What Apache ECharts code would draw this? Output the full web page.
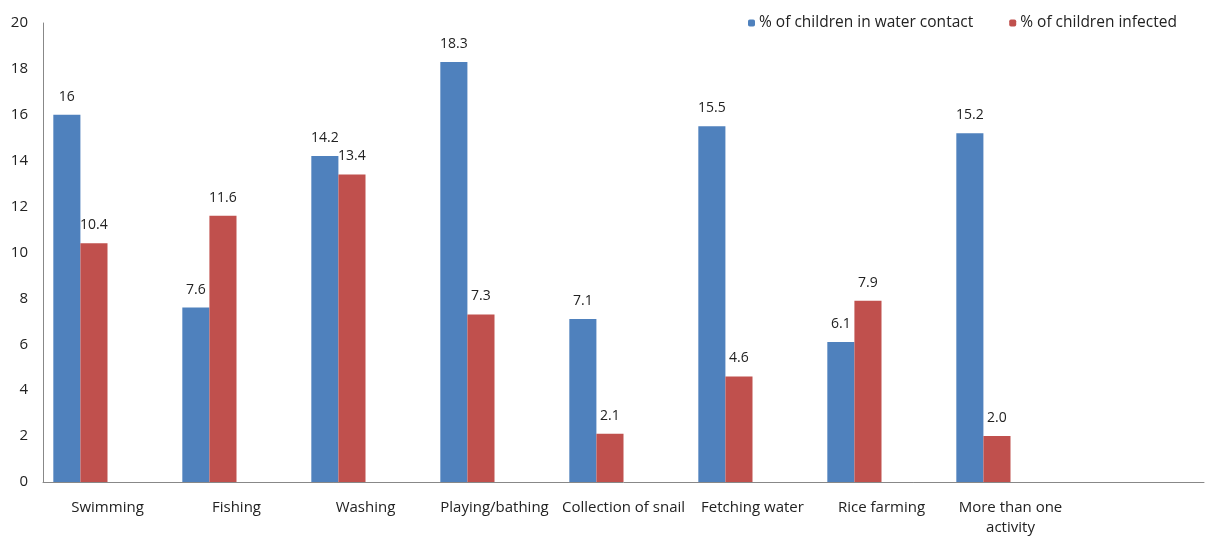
<!DOCTYPE html>
<html><head><meta charset="utf-8">
<script src="https://cdn.jsdelivr.net/npm/echarts@6/dist/echarts.min.js"></script>
<style>html,body{margin:0;padding:0;background:#fff}#c{width:1206px;height:538px}</style>
</head><body><div id="c"></div>
<script>
const categories = ['Swimming','Fishing','Washing','Playing/bathing','Collection of snail','Fetching water','Rice farming','More than one\nactivity',''];
const waterContact = [16, 7.6, 14.2, 18.3, 7.1, 15.5, 6.1, 15.2, null];
const infected = [10.4, 11.6, 13.4, 7.3, 2.1, 4.6, 7.9, 2.0, null];
const infectedLabels = ['10.4','11.6','13.4','7.3','2.1','4.6','7.9','2.0',''];
const yTicks = {min: 0, max: 20, interval: 2};

const font = 'Open Sans';
const chart = echarts.init(document.getElementById('c'), null, {renderer: 'canvas'});
const lbl = {show: true, position: 'top', distance: 11, fontFamily: font, fontSize: 14, color: '#222'};
chart.setOption({
  animation: false,
  grid: {left: 43, right: 2, top: 23, bottom: 49, containLabel: false},
  legend: {
    top: 10, left: 743, itemWidth: 7, itemHeight: 7, itemGap: 36,
    textStyle: {fontFamily: font, fontSize: 15.5, color: '#222', padding: [0,0,0,-1]},
    data: ['% of children in water contact', '% of children infected']
  },
  xAxis: {
    type: 'category', data: categories,
    axisLine: {lineStyle: {color: '#888'}},
    axisTick: {show: false},
    axisLabel: {fontFamily: font, fontSize: 15, color: '#222', margin: 16, interval: 0, lineHeight: 20}
  },
  yAxis: {
    type: 'value', min: yTicks.min, max: yTicks.max, interval: yTicks.interval,
    axisLine: {show: true, lineStyle: {color: '#888'}},
    axisTick: {show: false},
    splitLine: {show: false},
    axisLabel: {fontFamily: font, fontSize: 15, color: '#222', margin: 15}
  },
  series: [
    {name: '% of children in water contact', type: 'bar', data: waterContact, barGap: '0%', barCategoryGap: '16%',
     itemStyle: {color: '#4F81BD'}, label: lbl},
    {name: '% of children infected', type: 'bar', data: infected, barGap: '0%',
     itemStyle: {color: '#C0504D'},
     label: Object.assign({}, lbl, {formatter: p => infectedLabels[p.dataIndex]})},
    {name: 'pad1', type: 'bar', data: categories.map(() => null), barGap: '0%'},
    {name: 'pad2', type: 'bar', data: categories.map(() => null), barGap: '0%'}
  ]
});
</script></body></html>
